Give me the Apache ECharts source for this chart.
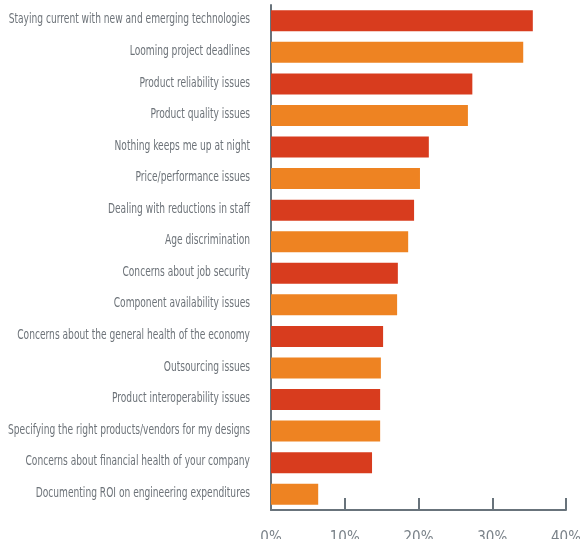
<!DOCTYPE html>
<html>
<head>
<meta charset="utf-8">
<style>
	html, body { margin: 0; padding: 0; background: #fff; }
	#chart { width: 580px; height: 539px; }
</style>
<script src="https://cdn.jsdelivr.net/npm/echarts@6/dist/echarts.min.js"></script>
</head>
<body>
<div id="chart"></div>
<script>
	// categories, top to bottom
	var categories = [
		'Staying current with new and emerging technologies',
		'Looming project deadlines',
		'Product reliability issues',
		'Product quality issues',
		'Nothing keeps me up at night',
		'Price/performance issues',
		'Dealing with reductions in staff',
		'Age discrimination',
		'Concerns about job security',
		'Component availability issues',
		'Concerns about the general health of the economy',
		'Outsourcing issues',
		'Product interoperability issues',
		'Specifying the right products/vendors for my designs',
		'Concerns about financial health of your company',
		'Documenting ROI on engineering expenditures'
	];
	var values = [35.5, 34.2, 27.3, 26.7, 21.4, 20.2, 19.4, 18.6, 17.2, 17.1, 15.2, 14.9, 14.8, 14.8, 13.7, 6.4];
	var xTicks = [0, 10, 20, 30, 40];

	var red = '#d83c1e';
	var orange = '#ee8322';
	var axisColor = '#68737b';
	var textColor = '#6d7379';
	var font = '"DejaVu Sans Condensed", "Liberation Sans Narrow", sans-serif';

	var myChart = echarts.init(document.getElementById('chart'));
	var option = {
		animation: false,
		grid: {
			left: 271,
			right: 14,
			top: 5,
			bottom: 29,
			outerBoundsMode: 'none',
			containLabel: false
		},
		xAxis: {
			type: 'value',
			min: xTicks[0],
			max: xTicks[xTicks.length - 1],
			interval: 10,
			axisLine: { show: true, lineStyle: { color: axisColor, width: 2 } },
			axisTick: { show: true, inside: true, length: 12, lineStyle: { color: axisColor, width: 2 } },
			splitLine: { show: false },
			axisLabel: {
				margin: 21,
				color: '#7a8289',
				fontSize: 15,
				fontFamily: font,
				formatter: '{value}%'
			}
		},
		yAxis: {
			type: 'category',
			inverse: true,
			data: categories,
			axisLine: { show: true, lineStyle: { color: axisColor, width: 2 } },
			axisTick: { show: false },
			axisLabel: { show: false }
		},
		series: [{
			type: 'bar',
			barWidth: 21,
			data: values.map(function (v, i) {
				return { value: v, itemStyle: { color: i % 2 === 0 ? red : orange } };
			})
		}]
	};
	myChart.setOption(option);

	// category labels: condensed look, placed with the y axis scale
	var labelFont = '14px ' + font;
	var ctx = document.createElement('canvas').getContext('2d');
	ctx.font = labelFont;
	var maxW = 0;
	categories.forEach(function (c) {
		maxW = Math.max(maxW, ctx.measureText(c).width);
	});
	var sx = 242 / maxW;
	var labelRight = myChart.convertToPixel({ xAxisIndex: 0 }, 0) - 21;
	myChart.setOption({
		graphic: categories.map(function (c) {
			return {
				type: 'text',
				x: labelRight,
				y: myChart.convertToPixel({ yAxisIndex: 0 }, c) - 1,
				scaleX: sx,
				style: {
					text: c,
					x: 0,
					y: 0,
					align: 'right',
					verticalAlign: 'middle',
					font: labelFont,
					fill: textColor
				}
			};
		})
	});
</script>
</body>
</html>
